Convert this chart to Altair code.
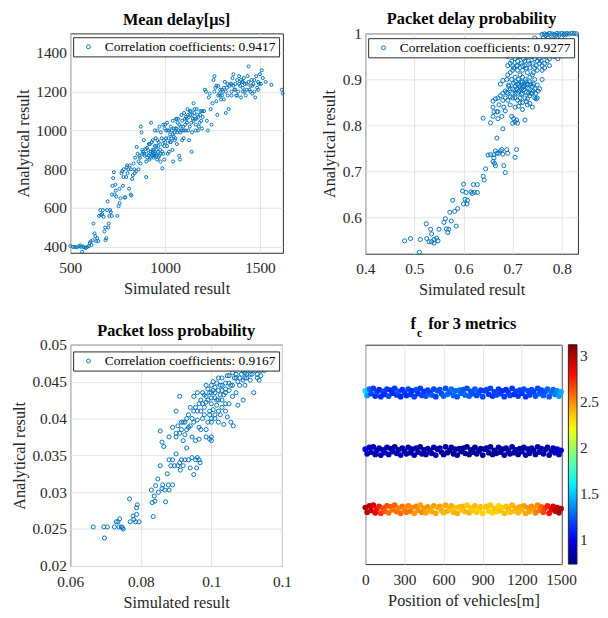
import altair as alt
import pandas as pd

FONT = "Liberation Serif"
BLUE = "#0072BD"

# ---------------- Panel 1: Mean delay ----------------
delay_label = "Correlation coefficients: 0.9417"
delay_points = [
    (500,405),(515,400),(525,400),(535,398),(545,403),(552,408),(558,400),(562,375),(568,402),(575,398),
    (582,395),(590,400),(598,405),(603,420),(607,428),(612,410),(618,435),
    (622,520),(628,470),(632,455),(637,430),(642,445),(648,430),(652,560),(658,590),(662,565),(668,570),
    (672,590),(676,555),(680,480),(684,500),(686,435),(690,445),(694,590),(697,635),(700,500),(703,520),(706,560),
    (710,590),(714,580),(718,560),(722,715),(726,755),(730,785),(734,670),(738,720),(742,660),(748,560),
    (755,610),(760,625),(765,650),(770,780),(774,790),(778,715),(782,800),(786,655),(790,655),(795,760),(798,810),
    (802,780),(806,800),(810,700),(814,820),(818,670),(822,665),(826,750),(830,770),(834,830),(838,800),
    (842,860),(846,790),(850,915),(855,880),(860,840),(864,870),(868,860),(872,1020),(876,990),(880,880),
    (884,890),(888,950),(892,870),(896,905),(900,760),
    (902,880),(906,860),(910,900),(914,930),(918,850),(922,880),(926,1040),(930,940),(934,900),(938,870),
    (942,880),(946,1000),(950,960),(954,920),(958,850),(962,890),(966,940),(970,870),(974,900),(978,990),
    (982,960),(986,930),(990,880),(994,950),(998,1010),(940,860),(955,870),(965,860),(975,840),(985,805),
    (995,850),(920,930),(930,870),(945,920),(960,1000),(970,1020),(990,1030),(915,870),(935,890),(950,880),
    (1002,940),(1006,1000),(1010,1040),(1014,880),(1018,960),(1022,1000),(1026,980),(1030,1020),(1034,960),
    (1038,900),(1042,840),(1046,1010),(1050,990),(1054,960),(1058,1060),(1062,930),(1066,1040),(1070,1000),
    (1074,870),(1078,850),(1082,1020),(1086,1080),(1090,950),(1094,1000),(1098,960),(1010,920),(1030,940),
    (1050,950),(1070,1060),(1090,1050),(1020,890),(1060,1010),(1040,980),(1080,990),
    (1102,1000),(1106,1030),(1110,1070),(1114,1060),(1118,1110),(1122,1000),(1126,950),(1130,1100),
    (1134,1080),(1138,1040),(1142,990),(1146,1060),(1150,1140),(1154,1090),(1158,1060),(1162,1030),
    (1166,1110),(1170,1080),(1174,1000),(1178,1020),(1182,1040),(1186,1100),(1190,1050),(1194,1010),
    (1198,1070),(1140,890),(1160,1000),(1120,1080),(1150,1050),
    (1205,1100),(1210,1210),(1215,1200),(1220,1050),(1225,1000),(1230,1170),(1235,1190),(1240,1110),
    (1245,1030),(1250,1140),(1255,1260),(1260,1280),(1265,1220),(1270,1150),(1275,1080),(1280,1230),
    (1285,1190),(1290,1210),(1295,1160),(1300,1180),
    (1305,1200),(1310,1160),(1315,1250),(1320,1090),(1325,1220),(1330,1180),(1335,1110),(1340,1230),
    (1345,1240),(1350,1200),(1355,1270),(1360,1290),(1365,1210),(1370,1240),(1375,1180),(1380,1260),
    (1385,1200),(1390,1280),(1395,1230),(1400,1170),(1405,1250),(1410,1220),(1415,1270),(1420,1200),
    (1425,1180),(1430,1240),(1435,1280),(1440,1330),(1445,1210),(1450,1230),(1455,1260),(1460,1190),
    (1465,1240),(1470,1200),(1475,1170),(1480,1280),(1485,1220),(1490,1250),(1495,1240),(1500,1290),
    (1505,1240),(1510,1310),(1515,1270),(1530,1250),(1560,1235),(1615,1210),(1620,1190),(1380,1180),
    (1410,1250),(1350,1240),(1320,1200),
    (880,900),(890,880),(905,910),(925,890),(935,950),(945,870),(955,900),(965,920),(975,880),(985,890),
    (995,920),(1005,960),(1015,1000),(1025,940),(1035,1000),(1045,970),(1055,1010),(1065,990),(1075,1030),
    (1085,1000),(1095,1020),(1105,1060),(1115,1040),(1125,1070),(1135,1100),(1145,1080),(1155,1110),
    (1165,1060),(1175,1070),(1185,1080),(1195,1100),(1130,1020),(1110,1000),(1100,1090),(1060,1060),
    (1040,1050),(1000,1030),(960,950),(940,900),(920,860),(900,840),(870,830),(860,800),(840,780),
    (820,800),(800,820),(780,760),(760,700),(740,690),(720,670),(1260,1200),(1270,1230),(1290,1180),
    (1310,1220),(1330,1240),(1350,1180),(1370,1210),(1390,1240),(1410,1200),(1430,1210),(1450,1200),
    (1470,1260),(1490,1210),(1360,1230),(1400,1260),(1420,1240),(1440,1250),(1460,1230),(1300,1210),
    (1280,1180),
]
delay_x_ticks = [500, 1000, 1500]
delay_y_ticks = [400, 600, 800, 1000, 1200, 1400]

# ---------------- Panel 2: Packet delay probability ----------------
pdp_label = "Correlation coefficients: 0.9277"
pdp_points = [
    (0.48,0.55),(0.492,0.555),(0.51,0.525),(0.512,0.553),(0.524,0.587),(0.525,0.555),(0.53,0.548),
    (0.533,0.575),(0.535,0.565),(0.535,0.548),(0.54,0.545),(0.54,0.553),(0.545,0.556),(0.548,0.55),
    (0.55,0.575),(0.56,0.59),(0.563,0.598),(0.565,0.576),(0.568,0.568),(0.57,0.575),(0.572,0.612),
    (0.575,0.593),(0.578,0.638),(0.582,0.614),(0.585,0.582),(0.588,0.62),(0.598,0.658),(0.6,0.673),
    (0.6,0.63),(0.603,0.64),(0.605,0.655),(0.607,0.63),(0.608,0.638),(0.615,0.656),(0.618,0.653),
    (0.62,0.672),(0.622,0.655),(0.628,0.672),(0.628,0.655),(0.64,0.69),(0.642,0.682),(0.645,0.706),
    (0.65,0.736),(0.655,0.737),(0.66,0.722),(0.662,0.737),(0.662,0.73),(0.665,0.745),(0.663,0.718),
    (0.665,0.713),(0.668,0.74),(0.668,0.773),(0.672,0.74),(0.675,0.745),(0.678,0.748),(0.68,0.738),
    (0.682,0.713),(0.685,0.698),(0.688,0.748),(0.69,0.74),(0.705,0.731),(0.708,0.748),(0.68,0.793),
    (0.66,0.853),(0.64,0.816),(0.655,0.806),(0.66,0.82),(0.662,0.83),(0.665,0.858),(0.668,0.83),
    (0.67,0.815),(0.672,0.845),(0.675,0.865),(0.678,0.82),(0.68,0.855),(0.682,0.84),(0.685,0.832),
    (0.688,0.872),(0.69,0.855),(0.692,0.888),(0.695,0.862),(0.698,0.82),(0.7,0.805),(0.702,0.815),
    (0.705,0.808),(0.708,0.812),(0.71,0.805),(0.712,0.842),(0.715,0.85),(0.72,0.835),(0.725,0.812),
    (0.728,0.852),(0.73,0.858),(0.732,0.87),(0.735,0.848),(0.74,0.84),(0.742,0.875),(0.745,0.86),
    (0.748,0.858),(0.675,0.89),(0.68,0.898),(0.685,0.875),(0.688,0.9),(0.69,0.91),(0.692,0.885),
    (0.695,0.915),(0.698,0.9),(0.7,0.88),(0.702,0.892),(0.705,0.87),(0.708,0.88),(0.71,0.89),
    (0.712,0.875),(0.712,0.9),(0.715,0.885),(0.718,0.868),(0.72,0.895),(0.722,0.878),(0.725,0.89),
    (0.728,0.872),(0.73,0.882),(0.735,0.895),(0.738,0.87),(0.74,0.885),(0.745,0.88),(0.75,0.888),
    (0.752,0.875),(0.715,0.86),(0.705,0.86),(0.725,0.86),(0.71,0.878),(0.72,0.883),(0.73,0.89),
    (0.695,0.935),(0.698,0.94),(0.7,0.955),(0.702,0.925),(0.705,0.945),(0.708,0.93),(0.71,0.92),
    (0.712,0.95),(0.715,0.96),(0.718,0.935),(0.72,0.92),(0.722,0.945),(0.725,0.93),(0.728,0.955),
    (0.73,0.915),(0.732,0.94),(0.735,0.925),(0.738,0.95),(0.74,0.935),(0.742,0.915),(0.745,0.945),
    (0.748,0.93),(0.75,0.92),(0.752,0.955),(0.755,0.935),(0.758,0.94),(0.76,0.92),(0.765,0.95),
    (0.77,0.94),(0.775,0.93),(0.78,0.96),(0.792,0.945),(0.705,0.905),(0.72,0.905),(0.735,0.905),
    (0.745,0.9),(0.715,0.91),(0.728,0.925),(0.74,0.91),
    (0.745,0.99),(0.75,0.985),(0.755,0.975),(0.76,0.998),(0.765,0.999),(0.77,0.998),(0.775,1.0),
    (0.78,0.999),(0.785,0.998),(0.79,1.0),(0.795,0.999),(0.8,1.0),(0.805,0.999),(0.81,1.0),
    (0.815,0.999),(0.82,1.0),(0.825,1.0),(0.83,0.999),(0.762,0.99),(0.772,0.99),(0.78,0.988),
    (0.79,0.99),(0.8,0.99),(0.768,0.996),(0.788,0.996),(0.808,0.997),
    (0.70,0.87),(0.705,0.885),(0.71,0.87),(0.713,0.89),(0.718,0.88),(0.72,0.87),(0.723,0.885),
    (0.727,0.895),(0.733,0.88),(0.737,0.89),(0.742,0.89),(0.747,0.87),(0.706,0.895),(0.716,0.895),
    (0.726,0.9),(0.7,0.93),(0.71,0.94),(0.72,0.93),(0.73,0.95),(0.74,0.95),(0.75,0.94),(0.76,0.93),
    (0.715,0.95),(0.725,0.94),(0.735,0.935),(0.745,0.925),(0.755,0.945),(0.765,0.935),(0.71,0.93),
    (0.7,0.92),(0.69,0.95),(0.69,0.93),(0.685,0.86),(0.695,0.88),(0.7,0.86),(0.71,0.855),(0.73,0.845),
    (0.74,0.87),(0.75,0.86),(0.67,0.86),(0.68,0.87),(0.69,0.87),(0.66,0.84),(0.67,0.83),(0.695,0.845),
    (0.705,0.84),(0.72,0.85),(0.735,0.865),(0.755,0.88),(0.76,0.9),(0.765,0.925),(0.77,0.955),
    (0.775,0.945),(0.785,0.95),
]
pdp_x_ticks = [0.4, 0.5, 0.6, 0.7, 0.8]
pdp_y_ticks = [0.6, 0.7, 0.8, 0.9, 1.0]

# ---------------- Panel 3: Packet loss probability ----------------
plp_label = "Correlation coefficients: 0.9167"
plp_points = [
    (0.0665,0.0253),(0.0695,0.0253),(0.0697,0.0238),(0.0705,0.0253),(0.0725,0.0253),(0.073,0.026),
    (0.0735,0.026),(0.0738,0.0253),(0.074,0.0264),(0.0745,0.0253),(0.0748,0.0252),(0.075,0.025),
    (0.0768,0.0291),(0.077,0.026),(0.0778,0.0268),(0.078,0.0263),(0.0785,0.026),(0.0788,0.0279),
    (0.079,0.0283),(0.0788,0.027),(0.0795,0.026),(0.083,0.0303),(0.0832,0.0286),(0.0835,0.0267),
    (0.0838,0.0295),(0.084,0.0288),(0.0842,0.0309),(0.0848,0.0318),(0.085,0.03),(0.0855,0.0336),
    (0.086,0.0305),(0.0862,0.031),(0.0868,0.0303),(0.087,0.0287),(0.0875,0.0325),(0.0878,0.031),
    (0.088,0.0303),(0.088,0.0344),(0.0885,0.0336),(0.089,0.0344),(0.089,0.031),(0.0895,0.0336),
    (0.09,0.0352),(0.0905,0.0336),(0.091,0.034),(0.0912,0.033),(0.0915,0.0344),(0.092,0.0336),
    (0.0925,0.0344),(0.093,0.036),(0.0935,0.0344),(0.094,0.0333),(0.0945,0.0347),(0.095,0.0324),
    (0.0955,0.0344),(0.0958,0.0333),(0.096,0.0347),(0.0965,0.0344),(0.0968,0.034),
    (0.0855,0.0383),(0.086,0.0368),(0.0865,0.0362),(0.088,0.0375),(0.089,0.0388),(0.09,0.041),
    (0.0905,0.039),(0.091,0.043),(0.0915,0.0385),(0.092,0.037),(0.0925,0.0395),(0.093,0.04),
    (0.0935,0.0388),(0.094,0.0415),(0.0945,0.04),(0.095,0.043),(0.0955,0.037),(0.096,0.0398),
    (0.0965,0.042),(0.097,0.0385),(0.0975,0.0435),(0.098,0.0405),(0.0985,0.0445),(0.099,0.0395),
    (0.0995,0.0372),(0.1,0.037),(0.1,0.042),(0.1005,0.0438),(0.101,0.04),(0.1015,0.0448),
    (0.102,0.0425),(0.1025,0.0405),(0.103,0.0445),(0.1035,0.0392),(0.104,0.0435),(0.1045,0.0402),
    (0.105,0.0448),(0.1055,0.0395),(0.106,0.043),(0.1062,0.039),(0.107,0.0455),(0.1075,0.0418),
    (0.108,0.0445),(0.1085,0.046),(0.109,0.0452),(0.1095,0.0462),(0.11,0.0455),(0.1105,0.0468),
    (0.111,0.046),(0.1115,0.047),(0.112,0.0435),(0.1125,0.0465),(0.113,0.046),(0.1135,0.0452),
    (0.114,0.0458),(0.1145,0.047),(0.115,0.0465),(0.107,0.0435),(0.105,0.042),(0.103,0.0425),
    (0.101,0.0435),(0.099,0.0425),(0.097,0.041),(0.095,0.0395),(0.098,0.0432),(0.1,0.0445),
    (0.102,0.0455),(0.104,0.0448),(0.106,0.0462),(0.108,0.047),(0.11,0.047),(0.096,0.0435),
    (0.0985,0.0385),(0.1,0.04),(0.102,0.0395),(0.104,0.042),(0.0965,0.0388),(0.0945,0.0375),
    (0.0925,0.0378),(0.09,0.0375),(0.0985,0.043),(0.1005,0.0412),(0.1025,0.0432),(0.105,0.0458),
    (0.1095,0.0445),(0.111,0.0452),(0.113,0.0468),(0.109,0.0425),(0.1,0.0428),(0.101,0.0442),
    (0.103,0.0438),(0.0995,0.041),(0.1015,0.0418),
    (0.098,0.0415),(0.099,0.044),(0.1,0.0435),(0.101,0.0428),(0.102,0.0438),(0.103,0.0455),
    (0.104,0.044),(0.105,0.0438),(0.106,0.0445),(0.107,0.046),(0.108,0.0455),(0.109,0.0465),
    (0.11,0.046),(0.111,0.0465),(0.112,0.047),(0.113,0.0455),(0.114,0.0465),(0.1,0.0395),
    (0.101,0.0405),(0.102,0.041),(0.103,0.0415),(0.104,0.041),(0.0995,0.0405),(0.0975,0.04),
    (0.097,0.0425),(0.096,0.041),(0.095,0.041),(0.094,0.039),(0.093,0.0385),(0.092,0.0395),
    (0.091,0.038),(0.09,0.038),(0.0915,0.0395),(0.0935,0.0405),(0.0955,0.0415),(0.0975,0.042),
    (0.0995,0.0435),(0.1015,0.0425),(0.1035,0.0432),(0.1055,0.0445),(0.1075,0.045),(0.1095,0.0455),
    (0.1115,0.046),(0.1065,0.0455),(0.1045,0.0458),(0.1025,0.0445),(0.1005,0.045),(0.0985,0.0422),
    (0.1,0.0375),(0.0985,0.0375),(0.0965,0.0372),
]
plp_x_ticks = [0.06, 0.08, 0.1, 0.12]
plp_y_ticks = [0.02, 0.025, 0.03, 0.035, 0.04, 0.045, 0.05]

# ---------------- Panel 4: f_c for 3 metrics ----------------
positions = [
    0,14,31,44,61,76,89,106,119,135,
    150,166,179,196,209,225,240,254,271,284,
    300,315,329,346,359,375,390,404,421,434,
    450,465,479,496,509,525,540,554,571,584,
    600,615,629,646,659,675,690,704,721,734,
    750,765,779,796,809,825,840,854,871,884,
    900,915,929,946,959,975,990,1004,1021,1034,
    1050,1065,1079,1096,1109,1125,1140,1154,1171,1184,
    1200,1215,1229,1246,1259,1275,1290,1304,1321,1334,
    1350,1365,1379,1396,1409,1425,1440,1454,1471,1484,
    1500]
jitter = [
    0.03,-0.05,0.06,-0.02,0.07,-0.06,0.01,0.05,-0.07,0.02,
    -0.03,0.06,-0.06,0.04,-0.01,0.07,-0.04,0.02,-0.07,0.05,
    0.0,-0.05,0.06,-0.03,0.03,-0.07,0.05,-0.02,0.07,-0.05,
    0.02,-0.06,0.04,0.0,-0.04,0.06,-0.07,0.03,0.05,-0.02,
    -0.06,0.07,-0.03,0.01,0.06,-0.05,0.03,-0.07,0.04,-0.01,
    0.05,-0.04,0.07,-0.06,0.02,-0.02,0.06,-0.05,0.0,0.04,
    -0.07,0.03,0.05,-0.03,0.07,-0.06,0.01,-0.04,0.06,-0.02,
    0.03,-0.07,0.05,0.0,-0.05,0.07,-0.03,0.02,-0.06,0.04,
    -0.01,0.06,-0.07,0.03,-0.04,0.05,0.01,-0.06,0.07,-0.02,
    0.04,-0.05,0.02,0.06,-0.07,0.0,0.05,-0.03,0.03,-0.06,
    0.01]
fc_row_levels = [3, 2, 1]
fc_top = [
    1.55,1.42,1.28,1.2,1.17,1.14,1.18,1.12,1.15,1.19,
    1.13,1.16,1.2,1.14,1.12,1.17,1.15,1.21,1.13,1.16,
    1.18,1.14,1.2,1.16,1.13,1.19,1.22,1.15,1.18,1.2,
    1.16,1.23,1.19,1.17,1.24,1.2,1.18,1.25,1.22,1.2,
    1.26,1.23,1.28,1.24,1.3,1.26,1.29,1.25,1.3,1.27,
    1.24,1.28,1.22,1.26,1.23,1.21,1.25,1.2,1.22,1.18,
    1.21,1.17,1.2,1.16,1.19,1.15,1.18,1.2,1.16,1.19,
    1.15,1.18,1.14,1.17,1.2,1.16,1.13,1.18,1.15,1.19,
    1.16,1.2,1.17,1.21,1.18,1.22,1.19,1.23,1.2,1.24,
    1.21,1.25,1.22,1.26,1.24,1.28,1.27,1.32,1.35,1.4,
    1.45]
fc_mid = [
    0.95,0.9,0.88,0.86,0.89,0.85,0.87,0.84,0.88,0.86,
    0.85,0.83,0.87,0.84,0.86,0.82,0.85,0.83,0.86,0.84,
    0.82,0.85,0.83,0.81,0.84,0.82,0.85,0.83,0.8,0.84,
    0.82,0.8,0.83,0.81,0.84,0.8,0.82,0.79,0.83,0.81,
    0.79,0.82,0.8,0.78,0.81,0.79,0.82,0.8,0.78,0.81,
    0.79,0.77,0.8,0.78,0.81,0.79,0.77,0.8,0.78,0.81,
    0.79,0.82,0.8,0.78,0.81,0.79,0.82,0.8,0.83,0.81,
    0.79,0.82,0.8,0.83,0.81,0.84,0.82,0.8,0.83,0.81,
    0.84,0.82,0.85,0.83,0.81,0.84,0.82,0.85,0.83,0.86,
    0.84,0.87,0.85,0.83,0.86,0.84,0.87,0.85,0.88,0.9,
    0.93]
fc_bot = [
    3.05,2.98,3.02,2.95,2.9,2.86,2.8,2.74,2.7,2.66,
    2.62,2.65,2.58,2.62,2.55,2.6,2.57,2.53,2.58,2.55,
    2.5,2.56,2.52,2.55,2.5,2.47,2.52,2.49,2.45,2.5,
    2.47,2.43,2.48,2.45,2.42,2.46,2.44,2.4,2.45,2.42,
    2.39,2.44,2.41,2.38,2.43,2.4,2.37,2.42,2.39,2.36,
    2.41,2.38,2.35,2.4,2.37,2.34,2.39,2.36,2.33,2.38,
    2.35,2.32,2.37,2.34,2.36,2.33,2.38,2.35,2.32,2.37,
    2.34,2.38,2.36,2.4,2.37,2.41,2.38,2.42,2.4,2.44,
    2.41,2.45,2.43,2.48,2.45,2.5,2.47,2.53,2.5,2.56,
    2.6,2.65,2.7,2.76,2.8,2.86,2.9,2.95,2.98,3.02,
    3.05]
fc_x_ticks = [0, 300, 600, 900, 1200, 1500]
cbar_ticks = [1, 1.5, 2, 2.5, 3]

# jet colormap stops
cmin, cmax = 0.74, 3.125
jet_fracs = [0, 0.125, 0.375, 0.625, 0.875, 1]
jet_colors = ["#000084", "#0000ff", "#00ffff", "#ffff00", "#ff0000", "#800000"]
jet_domain = [cmin + f * (cmax - cmin) for f in jet_fracs]


def scatter(points, label, title, toff, xdom, ydom, xticks, yticks, fmt, size, lx, ly, w, h):
    df = pd.DataFrame(points, columns=["sim", "ana"])
    df["series"] = label
    return alt.Chart(df, title=alt.TitleParams(title, offset=toff)).mark_point(
        shape="circle", filled=False, size=size, strokeWidth=1, opacity=1
    ).encode(
        x=alt.X("sim:Q", scale=alt.Scale(domain=xdom, nice=False, zero=False),
                axis=alt.Axis(values=xticks, format=fmt, title="Simulated result", labelFont=FONT)),
        y=alt.Y("ana:Q", scale=alt.Scale(domain=ydom, nice=False, zero=False),
                axis=alt.Axis(values=yticks, format=fmt, title="Analytical result", labelFont=FONT)),
        color=alt.Color("series:N", scale=alt.Scale(range=[BLUE]),
                        legend=alt.Legend(title=None, orient="none", legendX=lx, legendY=ly,
                                          fillColor="white", strokeColor="#262626",
                                          padding=3, labelFont=FONT, labelFontSize=14,
                                          labelColor="black", labelLimit=500,
                                          symbolType="circle", symbolSize=16,
                                          symbolStrokeWidth=1, symbolOffset=6,
                                          labelOffset=10)),
    ).properties(width=w, height=h)


p1 = scatter(delay_points, delay_label, "Mean delay[μs]", 5, [500, 1621], [370, 1500],
             delay_x_ticks, delay_y_ticks, "d", 10, 3, 4, 222, 229)
p2 = scatter(pdp_points, pdp_label, "Packet delay probability", -2.5, [0.4, 0.833], [0.522, 1.0],
             pdp_x_ticks, pdp_y_ticks, "~g", 18, 3, 5, 222, 230)
p3 = scatter(plp_points, plp_label, "Packet loss probability", -2.5, [0.06, 0.12], [0.02, 0.05],
             plp_x_ticks, plp_y_ticks, "~g", 18, 3, 7, 221, 231)

rows = []
for level, vals in zip(fc_row_levels, [fc_top, fc_mid, fc_bot]):
    for pos, jt, v in zip(positions, jitter, vals):
        rows.append({"pos": pos, "yy": level + jt, "fc": v})
fc_df = pd.DataFrame(rows)

fc_points = alt.Chart(fc_df).mark_circle(size=36, opacity=1).encode(
    x=alt.X("pos:Q", scale=alt.Scale(domain=[0, 1505], nice=False, zero=False),
            axis=alt.Axis(values=fc_x_ticks, format="d", title="Position of vehicles[m]", labelFont=FONT)),
    y=alt.Y("yy:Q", scale=alt.Scale(domain=[0.06, 3.82], nice=False, zero=False), axis=None),
    color=alt.Color("fc:Q",
                    scale=alt.Scale(domain=jet_domain, range=jet_colors, interpolate="rgb", clamp=True),
                    legend=alt.Legend(title=None, orient="right", offset=7, gradientLength=229,
                                      gradientThickness=9, values=cbar_ticks, format="~g",
                                      labelFont=FONT, labelFontSize=16, labelColor="#262626",
                                      gradientStrokeColor="#262626", gradientStrokeWidth=1,
                                      labelOffset=3, labelOverlap=False, direction="vertical")),
)
sub_c = alt.Chart(pd.DataFrame({"t": ["c"]})).mark_text(
    font=FONT, fontSize=12, fontWeight="bold", align="left", baseline="alphabetic", color="black"
).encode(text="t:N", x=alt.value(54), y=alt.value(-8))

p4 = alt.layer(fc_points, sub_c,
               title=alt.TitleParams("f\u2002 for 3 metrics", offset=-6)
               ).properties(width=205, height=229)

chart = alt.concat(p1, p2, p3, p4, columns=2,
                   spacing=alt.RowColnumber(row=17, column=29)).resolve_scale(
    color="independent").resolve_legend(color="independent").properties(
    padding={"left": 2, "top": -11, "right": 0, "bottom": 0}
).configure_view(stroke="#262626", strokeWidth=1).configure_axis(
    labelFont=FONT, labelFontSize=16, labelColor="#262626", titleFont=FONT, titleFontSize=17,
    titleFontWeight="normal", titleColor="#262626", domain=False, ticks=False,
    gridColor="#e3e3e3", gridWidth=1, labelPadding=8, titlePadding=6, labelFlush=False
).configure_axisY(labelPadding=4, titlePadding=4
).configure_title(font=FONT, fontSize=17, fontWeight="bold", color="black")

chart.save("out.html", embed_options={"renderer": "svg", "actions": False})
